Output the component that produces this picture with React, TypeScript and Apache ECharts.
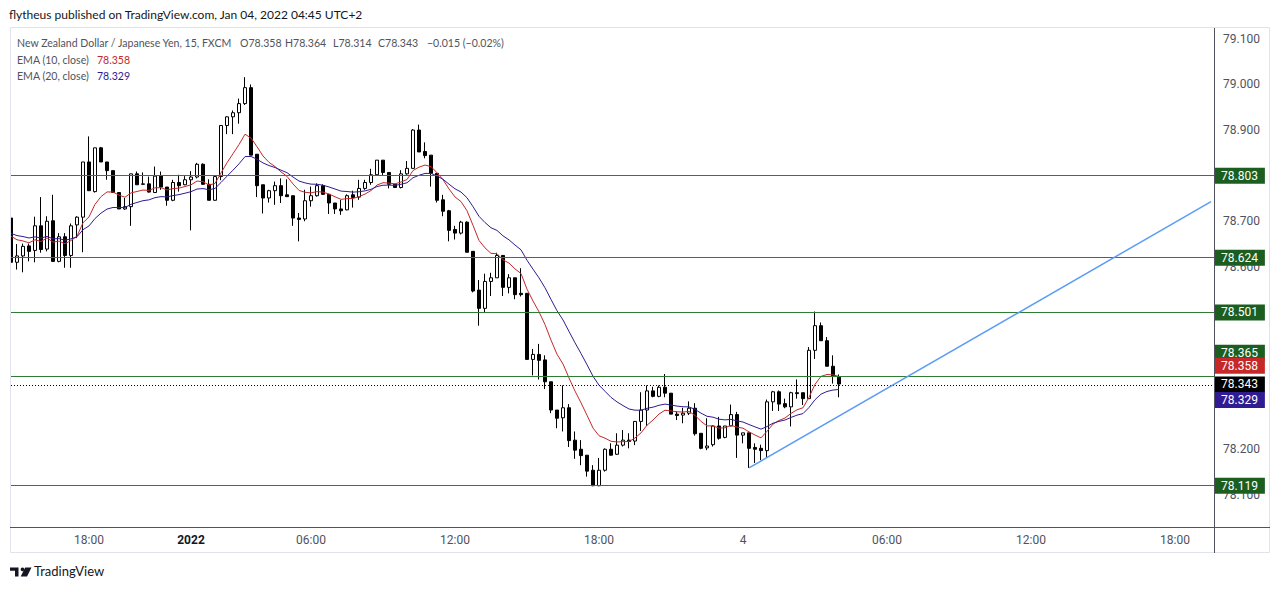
import React, { useEffect, useRef } from "react";
import * as echarts from "echarts";

// ---- data (NZDJPY, 15 min, FXCM) ----
const open = [78.707,78.610,78.624,78.646,78.636,78.690,78.639,78.701,78.612,78.666,
78.625,78.692,78.709,78.830,78.765,78.861,78.830,78.811,78.763,78.727,
78.732,78.804,78.781,78.782,78.763,78.799,78.775,78.746,78.785,78.780,
78.791,78.797,78.825,78.781,78.746,78.798,78.910,78.929,78.938,78.958,
78.993,78.847,78.780,78.751,78.767,78.778,78.758,78.756,78.707,78.705,
78.745,78.756,78.778,78.759,78.740,78.727,78.725,78.758,78.753,78.772,
78.785,78.802,78.834,78.807,78.781,78.774,78.804,78.816,78.900,78.853,
78.845,78.805,78.747,78.723,78.682,78.674,78.698,78.634,78.549,78.509,
78.568,78.576,78.625,78.555,78.576,78.542,78.542,78.397,78.408,78.396,
78.348,78.286,78.269,78.291,78.220,78.200,78.187,78.154,78.120,78.154,
78.200,78.189,78.209,78.220,78.218,78.261,78.286,78.328,78.316,78.336,
78.323,78.277,78.275,78.279,78.290,78.235,78.203,78.210,78.251,78.226,
78.251,78.276,78.231,78.236,78.204,78.202,78.197,78.304,78.326,78.300,
78.293,78.324,78.324,78.311,78.417,78.471,78.438,78.382,78.358];

const close = [78.610,78.624,78.645,78.634,78.690,78.638,78.700,78.612,78.666,78.625,
78.690,78.709,78.830,78.767,78.861,78.830,78.811,78.763,78.727,78.732,
78.804,78.780,78.782,78.764,78.799,78.775,78.746,78.785,78.778,78.791,
78.797,78.825,78.781,78.746,78.798,78.910,78.929,78.938,78.958,78.993,
78.845,78.778,78.751,78.767,78.778,78.756,78.754,78.707,78.704,78.745,
78.756,78.778,78.759,78.740,78.727,78.723,78.756,78.752,78.772,78.785,
78.802,78.834,78.807,78.781,78.774,78.804,78.816,78.900,78.852,78.844,
78.805,78.746,78.722,78.680,78.674,78.698,78.632,78.547,78.509,78.568,
78.576,78.625,78.555,78.576,78.539,78.539,78.397,78.408,78.395,78.348,
78.286,78.268,78.291,78.219,78.198,78.186,78.152,78.120,78.154,78.200,
78.187,78.209,78.220,78.217,78.261,78.286,78.328,78.316,78.336,78.323,
78.277,78.274,78.279,78.290,78.234,78.202,78.207,78.251,78.224,78.251,
78.276,78.231,78.236,78.202,78.200,78.197,78.304,78.326,78.299,78.293,
78.324,78.322,78.311,78.417,78.471,78.438,78.382,78.360,78.343];

const low = [78.600,78.594,78.588,78.612,78.610,78.631,78.634,78.612,78.610,78.598,
78.598,78.663,78.632,78.767,78.763,78.830,78.791,78.763,78.727,78.725,
78.690,78.780,78.780,78.763,78.762,78.769,78.734,78.744,78.765,78.779,
78.680,78.794,78.780,78.746,78.745,78.790,78.891,78.891,78.914,78.955,
78.845,78.753,78.717,78.741,78.736,78.740,78.753,78.690,78.656,78.700,
78.732,78.754,78.758,78.716,78.716,78.714,78.724,78.730,78.747,78.769,
78.780,78.801,78.800,78.772,78.774,78.772,78.802,78.815,78.852,78.838,
78.776,78.741,78.711,78.656,78.660,78.671,78.632,78.544,78.471,78.500,
78.536,78.576,78.536,78.542,78.529,78.535,78.397,78.362,78.353,78.332,
78.279,78.246,78.239,78.205,78.179,78.165,78.140,78.119,78.119,78.151,
78.186,78.188,78.206,78.202,78.209,78.240,78.251,78.314,78.314,78.314,
78.277,78.264,78.257,78.275,78.230,78.200,78.198,78.206,78.221,78.224,
78.251,78.181,78.213,78.159,78.170,78.176,78.181,78.284,78.284,78.290,
78.250,78.311,78.297,78.311,78.398,78.438,78.382,78.344,78.314];

const high = [78.710,78.650,78.651,78.651,78.710,78.753,78.711,78.758,78.674,78.674,
78.695,78.711,78.830,78.886,78.861,78.863,78.830,78.811,78.763,78.751,
78.804,78.809,78.807,78.798,78.820,78.809,78.775,78.791,78.802,78.799,
78.810,78.828,78.827,78.792,78.800,78.910,78.930,78.943,78.969,79.016,
79.000,78.847,78.780,78.769,78.787,78.794,78.792,78.756,78.718,78.769,
78.776,78.783,78.781,78.760,78.740,78.747,78.759,78.767,78.791,78.791,
78.815,78.834,78.834,78.807,78.781,78.812,78.832,78.902,78.912,78.873,
78.845,78.805,78.758,78.725,78.690,78.701,78.700,78.634,78.571,78.585,
78.587,78.631,78.625,78.584,78.576,78.597,78.542,78.420,78.431,78.406,
78.348,78.286,78.340,78.299,78.239,78.220,78.187,78.165,78.181,78.202,
78.213,78.235,78.242,78.235,78.262,78.325,78.340,78.337,78.340,78.365,
78.323,78.283,78.291,78.305,78.301,78.235,78.268,78.253,78.271,78.251,
78.298,78.282,78.236,78.236,78.213,78.210,78.309,78.328,78.329,78.311,
78.326,78.353,78.324,78.424,78.502,78.478,78.446,78.406,78.364];

// EMA values just before the first visible bar
const ema10Seed = 78.68;
const ema20Seed = 78.68;

// trading sessions shown on the axis (15-minute bars)
const sessions = [
  { date: "2021-12-31", start: "14:45", bars: 30 },
  { date: "2022-01-03", start: "01:00", bars: 92 },
  { date: "2022-01-04", start: "00:00", bars: 79 },
];

const tickLabels: Record<string, string> = {
  "2021-12-31 18:00": "18:00",
  "2022-01-03 01:00": "2022",
  "2022-01-03 06:00": "06:00",
  "2022-01-03 12:00": "12:00",
  "2022-01-03 18:00": "18:00",
  "2022-01-04 00:00": "4",
  "2022-01-04 06:00": "06:00",
  "2022-01-04 12:00": "12:00",
  "2022-01-04 18:00": "18:00",
};
const boldTick = "2022-01-03 01:00";

// price-scale labels that the price boxes hide completely in the reference
const coveredPriceTicks = [78.3, 78.4, 78.5, 78.8];

const greenLevels = [78.803, 78.624, 78.501, 78.365, 78.119];
const lastPrice = 78.343;
const ema10Last = 78.358;
const ema20Last = 78.329;
const trendStart = { bar: 123, price: 78.159 };
const trendEnd = { bar: 200, price: 78.743 };

const yMin = 78.0295;
const yMax = 79.1238;

const headerText = "flytheus published on TradingView.com, Jan 04, 2022 04:45 UTC+2";
const symbolText = "New Zealand Dollar / Japanese Yen, 15, FXCM";
const ohlcText = ["O78.358", "H78.364", "L78.314", "C78.343", "\u22120.015 (\u22120.02%)"];

// ---- styling ----
const GREEN = "#1b5e20";
const GREEN_LINE = "#2e7d32";
const RED = "#c62828";
const BLUE = "#311b92";
const TREND = "#5b9cf6";
const GRAY = "#50535e";
const DARK = "#131722";
const FONT = "Lato";
const AXFONT = "Roboto";
const LEGEND_SX = 0.88;

function buildCategories(): string[] {
  const out: string[] = [];
  for (const s of sessions) {
    const [h, m] = s.start.split(":").map(Number);
    let t = h * 60 + m;
    for (let i = 0; i < s.bars; i++) {
      const hh = String(Math.floor(t / 60)).padStart(2, "0");
      const mm = String(t % 60).padStart(2, "0");
      out.push(`${s.date} ${hh}:${mm}`);
      t += 15;
    }
  }
  return out;
}

function ema(values: number[], period: number, seed: number): number[] {
  const k = 2 / (period + 1);
  let prev = seed;
  return values.map((v) => {
    prev = prev + k * (v - prev);
    return +prev.toFixed(4);
  });
}

const logoPath = "M0 0H8.5V9H5V3.3H0Z M15.2 0H21.5L17 9H10.7Z";
echarts.graphic.registerShape("tvlogo", echarts.graphic.extendPath(logoPath, {}) as any);

function priceLabel(bg: string, v: number, offsetY: number) {
  return {
    show: true,
    position: "end",
    distance: 0,
    formatter: v.toFixed(3),
    color: "#ffffff",
    backgroundColor: bg,
    padding: [2, 7, 2, 7],
    fontSize: 12,
    lineHeight: 12,
    fontFamily: AXFONT,
    offset: [0, offsetY],
  };
}

function legendText(text: string, x: number, y: number, fill: string) {
  return {
    type: "text",
    z: 60,
    x,
    y,
    scaleX: LEGEND_SX,
    style: { text, fill, font: `12px ${FONT}`, verticalAlign: "top" },
  };
}

function priceTickLabel(v: number): string {
  const isTenth = Math.abs(v * 10 - Math.round(v * 10)) < 1e-6;
  if (!isTenth) return "";
  if (coveredPriceTicks.some((c) => Math.abs(c - v) < 1e-6)) return "";
  return v.toFixed(3);
}

export default function App() {
  const ref = useRef<HTMLDivElement>(null);
  useEffect(() => {
    if (!ref.current) return;
    const chart = echarts.init(ref.current, undefined, { renderer: "svg" });
    const categories = buildCategories();
    const ema10 = ema(close, 10, ema10Seed);
    const ema20 = ema(close, 20, ema20Seed);
    const candles = open.map((o, i) => [o, close[i], low[i], high[i]]);
    const greenOffsets = [0, 0, 0, -23.5, 0];
    const ohlcX = [240, 285, 333, 378, 427];

    const option: any = {
      animation: false,
      backgroundColor: "#ffffff",
      grid: { left: 8, right: 66, top: 28, bottom: 63, containLabel: false },
      xAxis: {
        type: "category",
        data: categories,
        boundaryGap: true,
        axisLine: { show: false },
        axisTick: { show: false },
        splitLine: { show: false },
        axisLabel: {
          interval: (_i: number, v: string) => v in tickLabels,
          formatter: (v: string) => (v === boldTick ? `{b|${tickLabels[v]}}` : tickLabels[v] || ""),
          color: GRAY,
          fontSize: 12,
          fontFamily: AXFONT,
          margin: 7,
          rich: { b: { fontWeight: "bold", color: DARK, fontSize: 12, fontFamily: AXFONT } },
        },
      },
      yAxis: {
        type: "value",
        position: "right",
        min: yMin,
        max: yMax,
        splitNumber: 10,
        axisLine: { show: false },
        axisTick: { show: false },
        splitLine: { show: false },
        axisLabel: {
          margin: 9,
          color: GRAY,
          fontSize: 12,
          fontFamily: AXFONT,
          formatter: priceTickLabel,
        },
      },
      series: [
        {
          type: "candlestick",
          data: candles,
          barWidth: 4,
          itemStyle: {
            color: "#ffffff",
            color0: "#000000",
            borderColor: "#000000",
            borderColor0: "#000000",
            borderWidth: 1,
          },
          markLine: {
            symbol: ["none", "none"],
            silent: true,
            animation: false,
            data: [
              ...greenLevels.map((v, i) => ({
                yAxis: v,
                lineStyle: { color: GREEN_LINE, width: 1, type: "solid" },
                label: priceLabel(GREEN, v, greenOffsets[i]),
              })),
              {
                yAxis: lastPrice,
                lineStyle: { color: "#000000", width: 1, type: [1, 2] },
                label: priceLabel("#000000", lastPrice, -1),
              },
              {
                yAxis: ema10Last,
                lineStyle: { color: "rgba(0,0,0,0)", width: 1 },
                label: priceLabel(RED, ema10Last, -10.5),
              },
              {
                yAxis: ema20Last,
                lineStyle: { color: "rgba(0,0,0,0)", width: 1 },
                label: priceLabel(BLUE, ema20Last, 10),
              },
              [
                {
                  coord: [trendStart.bar, trendStart.price],
                  lineStyle: { color: TREND, width: 1.5, type: "solid" },
                  label: { show: false },
                },
                { coord: [trendEnd.bar, trendEnd.price] },
              ],
            ],
          },
        },
        {
          type: "line",
          data: ema10,
          symbol: "none",
          silent: true,
          z: 3,
          lineStyle: { color: RED, width: 1 },
        },
        {
          type: "line",
          data: ema20,
          symbol: "none",
          silent: true,
          z: 3,
          lineStyle: { color: BLUE, width: 1 },
        },
      ],
      graphic: [
        { type: "rect", z: 50, shape: { x: 0, y: 28, width: 10, height: 500 }, style: { fill: "#ffffff" } },
        { type: "rect", z: 51, shape: { x: 10.5, y: 27.5, width: 1259, height: 525 }, style: { fill: "none", stroke: "#e0e3eb", lineWidth: 1 } },
        { type: "line", z: 51, shape: { x1: 10, y1: 527.5, x2: 1270, y2: 527.5 }, style: { stroke: GRAY, lineWidth: 1 } },
        { type: "line", z: 51, shape: { x1: 1214.5, y1: 28, x2: 1214.5, y2: 553 }, style: { stroke: GRAY, lineWidth: 1 } },
        { type: "text", z: 60, x: 9, y: 8, style: { text: headerText, fill: DARK, font: `12px ${FONT}`, verticalAlign: "top" } },
        legendText(symbolText, 17, 36.5, GRAY),
        ...ohlcText.map((t, i) => legendText(t, ohlcX[i], 36.5, GRAY)),
        legendText("EMA (10, close)", 17, 53, GRAY),
        legendText(ema10Last.toFixed(3), 97, 53, RED),
        legendText("EMA (20, close)", 17, 69.5, GRAY),
        legendText(ema20Last.toFixed(3), 97, 69.5, BLUE),
        { type: "tvlogo", z: 60, x: 10, y: 567.5, style: { fill: DARK } },
        { type: "circle", z: 60, shape: { cx: 22.5, cy: 569.3, r: 1.9 }, style: { fill: DARK } },
        { type: "text", z: 60, x: 34, y: 564, style: { text: "TradingView", fill: DARK, font: `13px ${FONT}`, verticalAlign: "top" } },
      ],
    };
    chart.setOption(option);
    return () => chart.dispose();
  }, []);
  return <div ref={ref} style={{ position: "absolute", left: 0, top: 0, width: 1280, height: 590 }} />;
}
